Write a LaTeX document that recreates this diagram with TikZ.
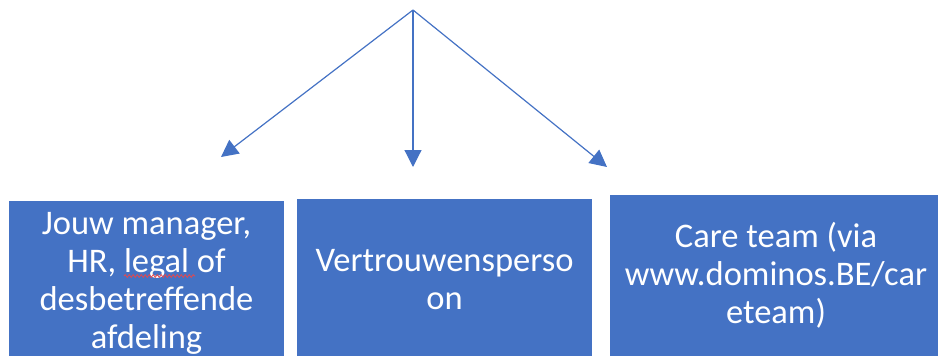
\documentclass[tikz,border=0pt]{standalone}
\usepackage{fontspec}
\setmainfont{Carlito}
\usetikzlibrary{arrows.meta,decorations.pathmorphing}
\definecolor{offblue}{HTML}{4472C4}
\definecolor{spellred}{HTML}{E8474B}
\tikzset{
  box/.style={fill=offblue, draw=none, anchor=north west, inner sep=0pt},
  lbl/.style={text=white, font=\fontsize{34.5}{38}\selectfont, anchor=base, inner sep=0pt},
  conn/.style={draw=offblue, line width=1.2pt, -{Triangle[length=17pt,width=17pt]}},
}
\begin{document}
\begin{tikzpicture}[x=1pt,y=-1pt]
\useasboundingbox (0,0) rectangle (938,356);
% boxes
\node[box, minimum width=275pt, minimum height=155pt] (b1) at (9,201) {};
\node[box, minimum width=295pt, minimum height=157pt] (b2) at (297,199) {};
\node[box, minimum width=328pt, minimum height=161pt] (b3) at (610,195) {};
% labels
\node[lbl] (t11) at (146.5,234) {Jouw manager,};
\node[lbl] (t12) at (146.5,272) {HR, legal of};
\node[lbl] (t13) at (146.5,310) {desbetreffende};
\node[lbl] (t14) at (146.5,348) {afdeling};
\node[lbl] (t21) at (444.5,271) {Vertrouwensperso};
\node[lbl] (t22) at (444.5,309) {on};
\node[lbl] (t31) at (776,247) {Care team (via};
\node[lbl] (t32) at (776,285) {www.dominos.BE/car};
\node[lbl] (t33) at (776,323) {eteam)};
% spell-check underline
\coordinate (u1) at (124,276);
\coordinate (u2) at (195,276);
\draw[spellred, line width=0.8pt, decorate, decoration={snake, amplitude=1.4pt, segment length=4pt}] (u1) -- (u2);
% connectors
\coordinate (top) at (413,10);
\coordinate (e1) at (221,157);
\coordinate (e2) at (413,167);
\coordinate (e3) at (607,167);
\draw[conn] (top) -- (e1);
\draw[conn] (top) -- (e2);
\draw[conn] (top) -- (e3);
\end{tikzpicture}
\end{document}
